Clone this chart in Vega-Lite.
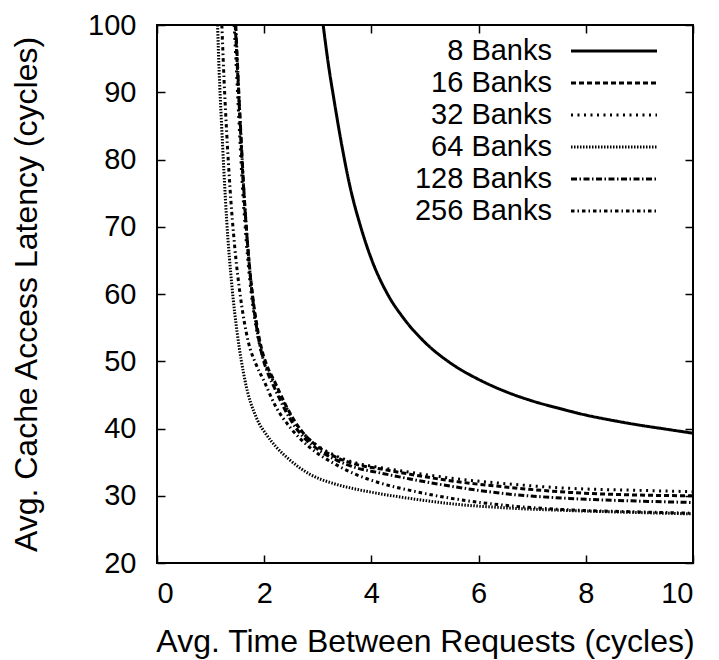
{
  "$schema": "https://vega.github.io/schema/vega-lite/v6.json",
  "width": 536,
  "height": 538,
  "autosize": {"type": "none"},
  "padding": {"left": 157, "top": 25, "right": 26, "bottom": 97},
  "background": "white",
  "config": {
    "view": {"stroke": "black", "strokeWidth": 2},
    "font": "Liberation Sans",
    "axis": {"grid": false, "domain": false, "tickColor": "black", "tickWidth": 1.5, "labelColor": "black", "titleColor": "black", "labelFont": "Liberation Sans", "titleFont": "Liberation Sans", "labelFontSize": 29, "titleFontSize": 32, "titleFontWeight": "normal"}
  },
  "datasets": {
    "curves": [
      {"banks": "8 Banks", "t": 3.10, "lat": 100},
      {"banks": "8 Banks", "t": 3.20, "lat": 94},
      {"banks": "8 Banks", "t": 3.30, "lat": 89},
      {"banks": "8 Banks", "t": 3.45, "lat": 82},
      {"banks": "8 Banks", "t": 3.60, "lat": 76},
      {"banks": "8 Banks", "t": 3.80, "lat": 70},
      {"banks": "8 Banks", "t": 4.00, "lat": 65.2},
      {"banks": "8 Banks", "t": 4.30, "lat": 60},
      {"banks": "8 Banks", "t": 4.60, "lat": 56.4},
      {"banks": "8 Banks", "t": 5.00, "lat": 52.8},
      {"banks": "8 Banks", "t": 5.50, "lat": 49.6},
      {"banks": "8 Banks", "t": 6.00, "lat": 47.3},
      {"banks": "8 Banks", "t": 6.50, "lat": 45.5},
      {"banks": "8 Banks", "t": 7.00, "lat": 44.1},
      {"banks": "8 Banks", "t": 7.50, "lat": 43},
      {"banks": "8 Banks", "t": 8.00, "lat": 42},
      {"banks": "8 Banks", "t": 8.50, "lat": 41.2},
      {"banks": "8 Banks", "t": 9.00, "lat": 40.5},
      {"banks": "8 Banks", "t": 9.50, "lat": 39.9},
      {"banks": "8 Banks", "t": 10.0, "lat": 39.3},

      {"banks": "16 Banks", "t": 1.46, "lat": 100},
      {"banks": "16 Banks", "t": 1.51, "lat": 92},
      {"banks": "16 Banks", "t": 1.56, "lat": 84},
      {"banks": "16 Banks", "t": 1.61, "lat": 76.5},
      {"banks": "16 Banks", "t": 1.66, "lat": 70.5},
      {"banks": "16 Banks", "t": 1.71, "lat": 65.5},
      {"banks": "16 Banks", "t": 1.78, "lat": 60},
      {"banks": "16 Banks", "t": 1.86, "lat": 55.5},
      {"banks": "16 Banks", "t": 1.96, "lat": 51.6},
      {"banks": "16 Banks", "t": 2.06, "lat": 49.2},
      {"banks": "16 Banks", "t": 2.2, "lat": 46.9},
      {"banks": "16 Banks", "t": 2.4, "lat": 43.5},
      {"banks": "16 Banks", "t": 2.6, "lat": 40.7},
      {"banks": "16 Banks", "t": 2.8, "lat": 38.7},
      {"banks": "16 Banks", "t": 3.0, "lat": 37.3},
      {"banks": "16 Banks", "t": 3.35, "lat": 35.7},
      {"banks": "16 Banks", "t": 3.7, "lat": 34.7},
      {"banks": "16 Banks", "t": 4.16, "lat": 34.0},
      {"banks": "16 Banks", "t": 4.72, "lat": 33.2},
      {"banks": "16 Banks", "t": 5.5, "lat": 32.2},
      {"banks": "16 Banks", "t": 6.5, "lat": 31.3},
      {"banks": "16 Banks", "t": 7.7, "lat": 30.5},
      {"banks": "16 Banks", "t": 9.0, "lat": 30.1},
      {"banks": "16 Banks", "t": 10.0, "lat": 30.0},

      {"banks": "32 Banks", "t": 1.44, "lat": 100},
      {"banks": "32 Banks", "t": 1.49, "lat": 92},
      {"banks": "32 Banks", "t": 1.54, "lat": 84},
      {"banks": "32 Banks", "t": 1.59, "lat": 76.5},
      {"banks": "32 Banks", "t": 1.64, "lat": 70.5},
      {"banks": "32 Banks", "t": 1.69, "lat": 65.5},
      {"banks": "32 Banks", "t": 1.76, "lat": 60},
      {"banks": "32 Banks", "t": 1.84, "lat": 55.5},
      {"banks": "32 Banks", "t": 1.94, "lat": 51.6},
      {"banks": "32 Banks", "t": 2.04, "lat": 49.2},
      {"banks": "32 Banks", "t": 2.2, "lat": 46.6},
      {"banks": "32 Banks", "t": 2.4, "lat": 43.3},
      {"banks": "32 Banks", "t": 2.6, "lat": 40.6},
      {"banks": "32 Banks", "t": 2.8, "lat": 38.7},
      {"banks": "32 Banks", "t": 3.0, "lat": 37.4},
      {"banks": "32 Banks", "t": 3.35, "lat": 35.9},
      {"banks": "32 Banks", "t": 3.7, "lat": 34.9},
      {"banks": "32 Banks", "t": 4.16, "lat": 34.2},
      {"banks": "32 Banks", "t": 4.72, "lat": 33.5},
      {"banks": "32 Banks", "t": 5.5, "lat": 32.6},
      {"banks": "32 Banks", "t": 6.5, "lat": 31.8},
      {"banks": "32 Banks", "t": 7.7, "lat": 31.1},
      {"banks": "32 Banks", "t": 9.0, "lat": 30.8},
      {"banks": "32 Banks", "t": 10.0, "lat": 30.6},

      {"banks": "64 Banks", "t": 1.13, "lat": 100},
      {"banks": "64 Banks", "t": 1.16, "lat": 93},
      {"banks": "64 Banks", "t": 1.20, "lat": 86},
      {"banks": "64 Banks", "t": 1.25, "lat": 78},
      {"banks": "64 Banks", "t": 1.30, "lat": 71},
      {"banks": "64 Banks", "t": 1.40, "lat": 61},
      {"banks": "64 Banks", "t": 1.50, "lat": 54},
      {"banks": "64 Banks", "t": 1.64, "lat": 47.2},
      {"banks": "64 Banks", "t": 1.86, "lat": 41.5},
      {"banks": "64 Banks", "t": 2.05, "lat": 39},
      {"banks": "64 Banks", "t": 2.23, "lat": 37.2},
      {"banks": "64 Banks", "t": 2.48, "lat": 35.3},
      {"banks": "64 Banks", "t": 2.85, "lat": 33.2},
      {"banks": "64 Banks", "t": 3.3, "lat": 31.8},
      {"banks": "64 Banks", "t": 3.7, "lat": 31.0},
      {"banks": "64 Banks", "t": 4.16, "lat": 30.3},
      {"banks": "64 Banks", "t": 4.72, "lat": 29.6},
      {"banks": "64 Banks", "t": 5.5, "lat": 28.8},
      {"banks": "64 Banks", "t": 6.5, "lat": 28.2},
      {"banks": "64 Banks", "t": 7.7, "lat": 27.8},
      {"banks": "64 Banks", "t": 9.0, "lat": 27.5},
      {"banks": "64 Banks", "t": 10.0, "lat": 27.3},

      {"banks": "128 Banks", "t": 1.47, "lat": 100},
      {"banks": "128 Banks", "t": 1.52, "lat": 91},
      {"banks": "128 Banks", "t": 1.57, "lat": 83},
      {"banks": "128 Banks", "t": 1.62, "lat": 75.5},
      {"banks": "128 Banks", "t": 1.67, "lat": 69.5},
      {"banks": "128 Banks", "t": 1.72, "lat": 64.5},
      {"banks": "128 Banks", "t": 1.79, "lat": 59},
      {"banks": "128 Banks", "t": 1.87, "lat": 54.5},
      {"banks": "128 Banks", "t": 1.97, "lat": 50.6},
      {"banks": "128 Banks", "t": 2.07, "lat": 48.2},
      {"banks": "128 Banks", "t": 2.2, "lat": 45.9},
      {"banks": "128 Banks", "t": 2.4, "lat": 42.6},
      {"banks": "128 Banks", "t": 2.6, "lat": 40.0},
      {"banks": "128 Banks", "t": 2.8, "lat": 38.2},
      {"banks": "128 Banks", "t": 3.0, "lat": 36.9},
      {"banks": "128 Banks", "t": 3.35, "lat": 35.3},
      {"banks": "128 Banks", "t": 3.7, "lat": 34.2},
      {"banks": "128 Banks", "t": 4.16, "lat": 33.4},
      {"banks": "128 Banks", "t": 4.72, "lat": 32.5},
      {"banks": "128 Banks", "t": 5.5, "lat": 31.4},
      {"banks": "128 Banks", "t": 6.5, "lat": 30.3},
      {"banks": "128 Banks", "t": 7.7, "lat": 29.6},
      {"banks": "128 Banks", "t": 9.0, "lat": 29.2},
      {"banks": "128 Banks", "t": 10.0, "lat": 29.0},

      {"banks": "256 Banks", "t": 1.21, "lat": 100},
      {"banks": "256 Banks", "t": 1.25, "lat": 92},
      {"banks": "256 Banks", "t": 1.30, "lat": 84},
      {"banks": "256 Banks", "t": 1.36, "lat": 76},
      {"banks": "256 Banks", "t": 1.45, "lat": 67},
      {"banks": "256 Banks", "t": 1.55, "lat": 60},
      {"banks": "256 Banks", "t": 1.70, "lat": 53},
      {"banks": "256 Banks", "t": 1.85, "lat": 49.5},
      {"banks": "256 Banks", "t": 2.0, "lat": 47},
      {"banks": "256 Banks", "t": 2.2, "lat": 43.5},
      {"banks": "256 Banks", "t": 2.5, "lat": 40},
      {"banks": "256 Banks", "t": 2.85, "lat": 37.2},
      {"banks": "256 Banks", "t": 3.3, "lat": 34.8},
      {"banks": "256 Banks", "t": 3.7, "lat": 33.2},
      {"banks": "256 Banks", "t": 4.16, "lat": 31.9},
      {"banks": "256 Banks", "t": 4.72, "lat": 30.8},
      {"banks": "256 Banks", "t": 5.5, "lat": 29.6},
      {"banks": "256 Banks", "t": 6.6, "lat": 28.5},
      {"banks": "256 Banks", "t": 7.7, "lat": 27.9},
      {"banks": "256 Banks", "t": 9.0, "lat": 27.6},
      {"banks": "256 Banks", "t": 10.0, "lat": 27.4}
    ]
  },
  "data": {"name": "curves"},
  "resolve": {"axis": {"x": "independent", "y": "independent"}},
  "layer": [
    {
      "mark": {"type": "line", "clip": true, "color": "black", "interpolate": "monotone"},
      "encoding": {
        "x": {"field": "t", "type": "quantitative", "scale": {"domain": [0, 10], "nice": false, "zero": false},
              "axis": {"orient": "bottom", "values": [0, 2, 4, 6, 8, 10], "tickSize": -8, "labelPadding": 24, "title": "Avg. Time Between Requests (cycles)", "titlePadding": 18}},
        "y": {"field": "lat", "type": "quantitative", "scale": {"domain": [20, 100], "nice": false, "zero": false},
              "axis": {"orient": "left", "values": [20, 30, 40, 50, 60, 70, 80, 90, 100], "tickSize": -8, "labelPadding": 29, "title": "Avg. Cache Access Latency (cycles)", "titlePadding": 44}},
        "strokeDash": {"field": "banks", "type": "nominal",
          "scale": {"domain": ["8 Banks", "16 Banks", "32 Banks", "64 Banks", "128 Banks", "256 Banks"],
                    "range": [[1, 0], [5, 3], [2, 4.5], [1.5, 1.5], [6, 2.5, 1.5, 2.5], [3.5, 3, 1.5, 3]]},
          "legend": {"orient": "none", "legendX": 441, "legendY": 10, "title": null, "padding": 0,
                     "labelFont": "Liberation Sans", "labelFontSize": 29, "labelColor": "black", "labelAlign": "right", "labelOffset": -78,
                     "symbolType": "M-3,0L3,0", "symbolSize": 822, "symbolStrokeColor": "black", "rowPadding": 1}},
        "strokeWidth": {"field": "banks", "type": "nominal",
          "scale": {"domain": ["8 Banks", "16 Banks", "32 Banks", "64 Banks", "128 Banks", "256 Banks"],
                    "range": [3, 3, 2.6, 2.2, 2.6, 2.4]},
          "legend": null}
      }
    },
    {
      "mark": {"type": "line", "opacity": 0},
      "encoding": {
        "x": {"field": "t", "type": "quantitative",
              "axis": {"orient": "top", "values": [0, 2, 4, 6, 8, 10], "tickSize": -8, "labels": false, "title": null}},
        "y": {"field": "lat", "type": "quantitative",
              "axis": {"orient": "right", "values": [20, 30, 40, 50, 60, 70, 80, 90, 100], "tickSize": -8, "labels": false, "title": null}},
        "detail": {"field": "banks"}
      }
    }
  ]
}
